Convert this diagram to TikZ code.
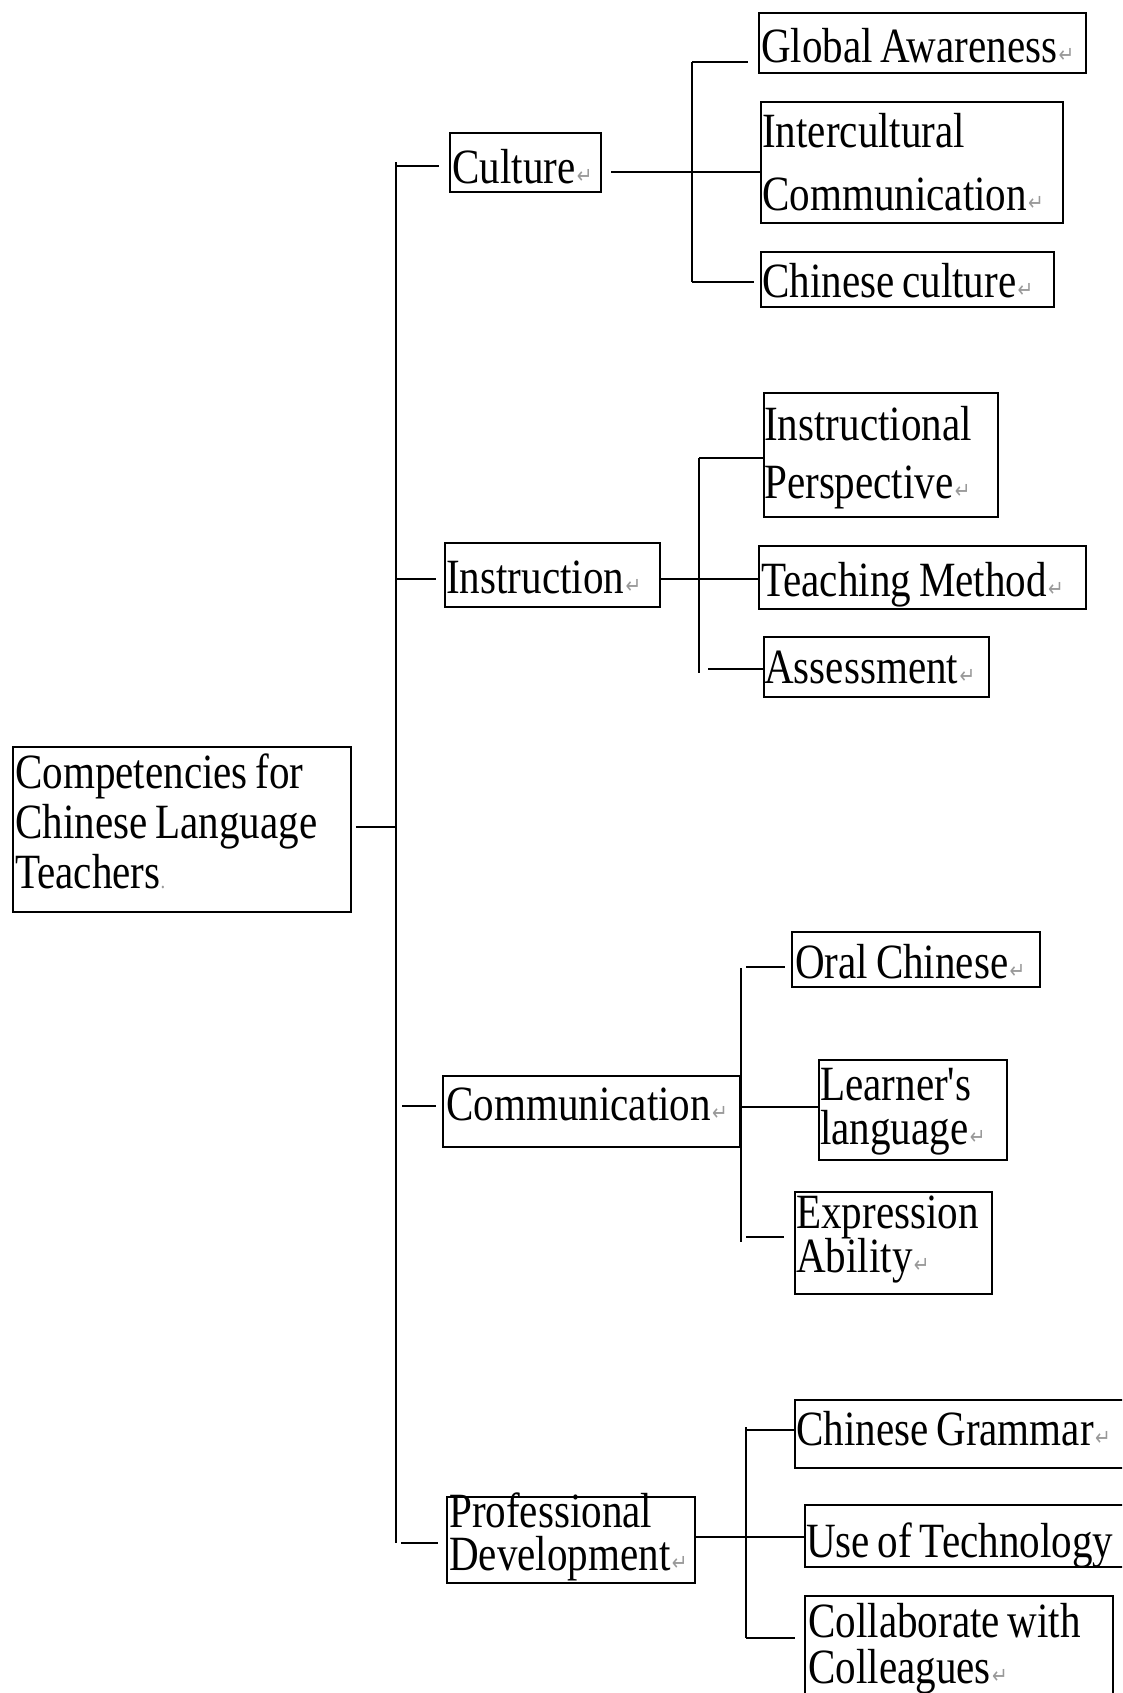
\documentclass[tikz,border=0pt]{standalone}
\usepackage{graphicx}
\usepackage{fontspec}
\setmainfont{Liberation Serif}
\newfontfamily\markfont{DejaVu Sans}
\usetikzlibrary{fit}

% grey paragraph mark printed after each label
\newcommand\pmk{\kern1pt\textcolor{black!40}{\markfont\fontsize{14pt}{14pt}\selectfont ↵}}
% tall, narrow lettering: lines stacked with a given skip, stretched vertically
\newcommand\tallstack[2]{\scalebox{1}[1.2]{\vtop{\baselineskip=#1\relax #2}}}
\newcommand\lineof[1]{\hbox{#1}}

\tikzset{
  box/.style={draw, line width=1.25pt, inner sep=0pt},
  txt/.style={anchor=base west, inner sep=0pt,
    font={\fontsize{30.8pt}{36pt}\selectfont\spaceskip=0.19em plus 0.05em\relax}},
  link/.style={line width=1.1pt},
}

\begin{document}
\begin{tikzpicture}[x=0.75pt, y=-0.75pt]
\useasboundingbox (0,0) rectangle (1122,1693);
\fill[white] (0,0) rectangle (1122,1693);
\clip (0,0) rectangle (1122,1693);

% ---- boxes ----
\node[box, fit={(13,747) (351,912)}] (root) {};
\node[box, fit={(450,133) (601,192)}] (culture) {};
\node[box, fit={(759,13) (1086,73)}] (ga) {};
\node[box, fit={(761,102) (1063,223)}] (ic) {};
\node[box, fit={(761,252) (1054,307)}] (cc) {};
\node[box, fit={(445,543) (660,607)}] (instr) {};
\node[box, fit={(764,393) (998,517)}] (ip) {};
\node[box, fit={(759,546) (1086,609)}] (tm) {};
\node[box, fit={(764,637) (989,697)}] (as) {};
\node[box, fit={(443,1076) (740,1147)}] (comm) {};
\node[box, fit={(792,932) (1040,987)}] (oc) {};
\node[box, fit={(819,1060) (1007,1160)}] (ll) {};
\node[box, fit={(795,1192) (992,1294)}] (ea) {};
\node[box, fit={(447,1497) (695,1583)}] (pd) {};
\node[box, fit={(795,1400) (1140,1468)}] (cg) {};
\node[box, fit={(805,1505) (1140,1567)}] (ut) {};
\node[box, fit={(805,1596) (1113,1730)}] (cw) {};

% ---- labels ----
\node[txt] (root-t) at (15,788) {\tallstack{31.25pt}{\lineof{Competencies for}\lineof{Chinese Language}\lineof{Teachers\textcolor{black!40}{\fontsize{14pt}{14pt}\selectfont .}}}};
\node[txt] (culture-t) at (452,183) {\tallstack{0pt}{\lineof{Culture\pmk}}};
\node[txt] (ga-t) at (761,62) {\tallstack{0pt}{\lineof{Global Awareness\pmk}}};
\node[txt] (ic-t) at (762,147) {\tallstack{39.4pt}{\lineof{Intercultural}\lineof{Communication\pmk}}};
\node[txt] (cc-t) at (762,297) {\tallstack{0pt}{\lineof{Chinese culture\pmk}}};
\node[txt] (instr-t) at (446,593) {\tallstack{0pt}{\lineof{Instruction\pmk}}};
\node[txt] (ip-t) at (764,440) {\tallstack{36.25pt}{\lineof{Instructional}\lineof{Perspective\pmk}}};
\node[txt] (tm-t) at (761,596) {\tallstack{0pt}{\lineof{Teaching Method\pmk}}};
\node[txt] (as-t) at (764,683) {\tallstack{0pt}{\lineof{Assessment\pmk}}};
\node[txt] (comm-t) at (446,1120) {\tallstack{0pt}{\lineof{Communication\pmk}}};
\node[txt] (oc-t) at (795,978) {\tallstack{0pt}{\lineof{Oral Chinese\pmk}}};
\node[txt] (ll-t) at (820,1100) {\tallstack{28.1pt}{\lineof{Learner\textquotesingle s}\lineof{language\pmk}}};
\node[txt] (ea-t) at (796,1228) {\tallstack{28.1pt}{\lineof{Expression}\lineof{Ability\pmk}}};
\node[txt] (pd-t) at (449,1527) {\tallstack{27pt}{\lineof{Professional}\lineof{Development\pmk}}};
\node[txt] (cg-t) at (796,1445) {\tallstack{0pt}{\lineof{Chinese Grammar\pmk}}};
\node[txt] (ut-t) at (806,1557) {\tallstack{0pt}{\lineof{Use of Technology}}};
\node[txt] (cw-t) at (808,1637) {\tallstack{28.75pt}{\lineof{Collaborate with}\lineof{Colleagues\pmk}}};

% ---- main spine ----
\coordinate (spTop) at (396,162);
\coordinate (spBot) at (396,1543);
\coordinate (jRoot) at (396,827);
\coordinate (jCul) at (396,166);
\coordinate (jIns) at (396,579);
\coordinate (jCom) at (396,1106);
\coordinate (jPro) at (396,1543);
\draw[link] (spTop) -- (spBot);
\draw[link, shorten <=3pt] (root.east |- jRoot) -- (jRoot);
\draw[link, shorten >=8pt] (jCul) -- (culture.west |- jCul);
\draw[link, shorten >=6pt] (jIns) -- (instr.west |- jIns);
\draw[link, shorten <=4.5pt, shorten >=4.5pt] (jCom) -- (comm.west |- jCom);
\draw[link, shorten <=4pt, shorten >=6pt] (jPro) -- (pd.west |- jPro);

% ---- culture branch ----
\coordinate (cTop) at (692,62);
\coordinate (cBot) at (692,282);
\coordinate (cBr) at (692,172);
\draw[link] (cTop) -- (cBot);
\draw[link, shorten <=7pt] (culture.east |- cBr) -- (ic.west |- cBr);
\draw[link, shorten >=8pt] (cTop) -- (ga.west |- cTop);
\draw[link, shorten >=5pt] (cBot) -- (cc.west |- cBot);

% ---- instruction branch ----
\coordinate (iTop) at (699,458);
\coordinate (iBot) at (699,673);
\coordinate (iBr) at (699,579);
\coordinate (iAs) at (699,669);
\draw[link] (iTop) -- (iBot);
\draw[link] (instr.east |- iBr) -- (tm.west |- iBr);
\draw[link] (iTop) -- (ip.west |- iTop);
\draw[link, shorten <=7pt] (iAs) -- (as.west |- iAs);

% ---- communication branch ----
\coordinate (mTop) at (741,968);
\coordinate (mBot) at (741,1242);
\coordinate (mBr) at (741,1107);
\coordinate (mOc) at (741,967);
\coordinate (mEa) at (741,1237);
\draw[link] (mTop) -- (mBot);
\draw[link] (comm.east |- mBr) -- (ll.west |- mBr);
\draw[link, shorten <=4pt, shorten >=4.5pt] (mOc) -- (oc.west |- mOc);
\draw[link, shorten <=4pt, shorten >=7.5pt] (mEa) -- (ea.west |- mEa);

% ---- professional development branch ----
\coordinate (pTop) at (746,1427);
\coordinate (pBot) at (746,1638);
\coordinate (pBr) at (746,1537);
\coordinate (pCg) at (746,1430);
\draw[link] (pTop) -- (pBot);
\draw[link] (pd.east |- pBr) -- (ut.west |- pBr);
\draw[link] (pCg) -- (cg.west |- pCg);
\draw[link, shorten >=7pt] (pBot) -- (cw.west |- pBot);
\end{tikzpicture}
\end{document}
